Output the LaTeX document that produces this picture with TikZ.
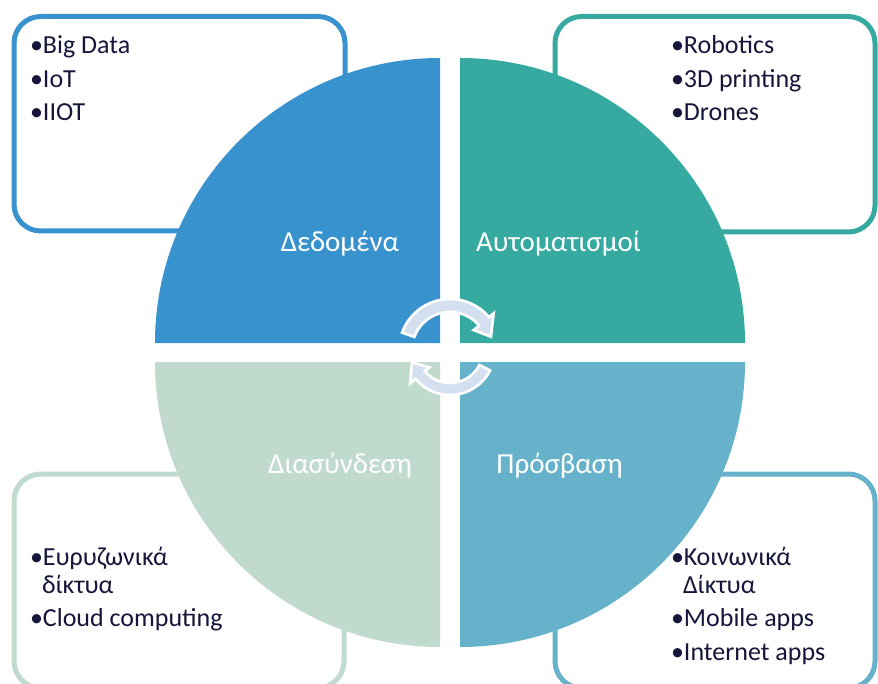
\documentclass[tikz,border=0pt]{standalone}
\usepackage{fontspec}
\setmainfont{Carlito}
\definecolor{qblue}{RGB}{56,146,206}
\definecolor{qteal}{RGB}{54,170,161}
\definecolor{qgreen}{RGB}{193,218,206}
\definecolor{qsky}{RGB}{103,178,203}
\definecolor{navy}{RGB}{22,22,58}
\definecolor{arrowfill}{RGB}{212,224,240}
\begin{document}
\begin{tikzpicture}[x=0.75pt,y=-0.75pt,
  infobox/.style={line width=3.75pt, fill=white, rounded corners=20pt},
  item/.style={anchor=base west, inner sep=0pt, outer sep=0pt, text=navy, font=\fontsize{19.5}{23}\selectfont},
  lab/.style={anchor=base, inner sep=0pt, text=white, font=\fontsize{21.75}{26}\selectfont},
  cyc/.style={fill=arrowfill, draw=white, line width=2pt, line join=miter}]
\useasboundingbox (0,0) rectangle (878,684);
\clip (0,0) rectangle (878,684);
% boxes
\draw[infobox, draw=qblue] (14,16.5) rectangle (345,231);
\draw[infobox, draw=qteal] (555,16.5) rectangle (875,232);
\draw[infobox, draw=qgreen] (14,474) rectangle (344,688);
\draw[infobox, draw=qsky] (555,474) rectangle (875,688);
% quadrants
\fill[qblue] (440,343) -- ++(180:285) arc[start angle=180, end angle=270, radius=285] -- cycle;
\fill[qteal] (460,343) -- ++(270:285) arc[start angle=270, end angle=360, radius=285] -- cycle;
\fill[qsky] (460,362) -- ++(0:285) arc[start angle=0, end angle=90, radius=285] -- cycle;
\fill[qgreen] (440,362) -- ++(90:285) arc[start angle=90, end angle=180, radius=285] -- cycle;
% labels
\node[lab] (lda) at (340,252) {Δεδομένα};
\node[lab] (lau) at (558.5,252) {Αυτοματισμοί};
\node[lab] (ldi) at (340,473) {Διασύνδεση};
\node[lab] (lpr) at (559.5,473) {Πρόσβαση};
% lists
\node[item] (a1) at (30,53.5) {•Big Data};
\node[item] (a2) at (30,87.3) {•IoT};
\node[item] (a3) at (30,120.7) {•IIOT};
\node[item] (b1) at (671,53.5) {•Robotics};
\node[item] (b2) at (671,87.3) {•3D printing};
\node[item] (b3) at (671,120.7) {•Drones};
\node[item] (c1) at (30,565) {•Ευρυζωνικά};
\node[item] (c2) at (42,593.3) {δίκτυα};
\node[item] (c3) at (30,626.7) {•Cloud computing};
\node[item] (d1) at (671,565) {•Κοινωνικά};
\node[item] (d2) at (683,593.3) {Δίκτυα};
\node[item] (d3) at (671,626.7) {•Mobile apps};
\node[item] (d4) at (671,660) {•Internet apps};
% cycle arrows
\begin{scope}[shift={(450,350)}, yscale=-1]
\filldraw[cyc] (160:51) arc[start angle=160, end angle=40, radius=51] -- (40:57) -- (18:43) -- (40:31) -- (40:38) arc[start angle=40, end angle=160, radius=38] -- cycle;
\filldraw[cyc] (-27:45) arc[start angle=-27, end angle=-140, radius=45] -- (-140:52) -- (-162:40) -- (-140:27) -- (-140:33) arc[start angle=-140, end angle=-27, radius=33] -- cycle;
\end{scope}
\end{tikzpicture}
\end{document}
